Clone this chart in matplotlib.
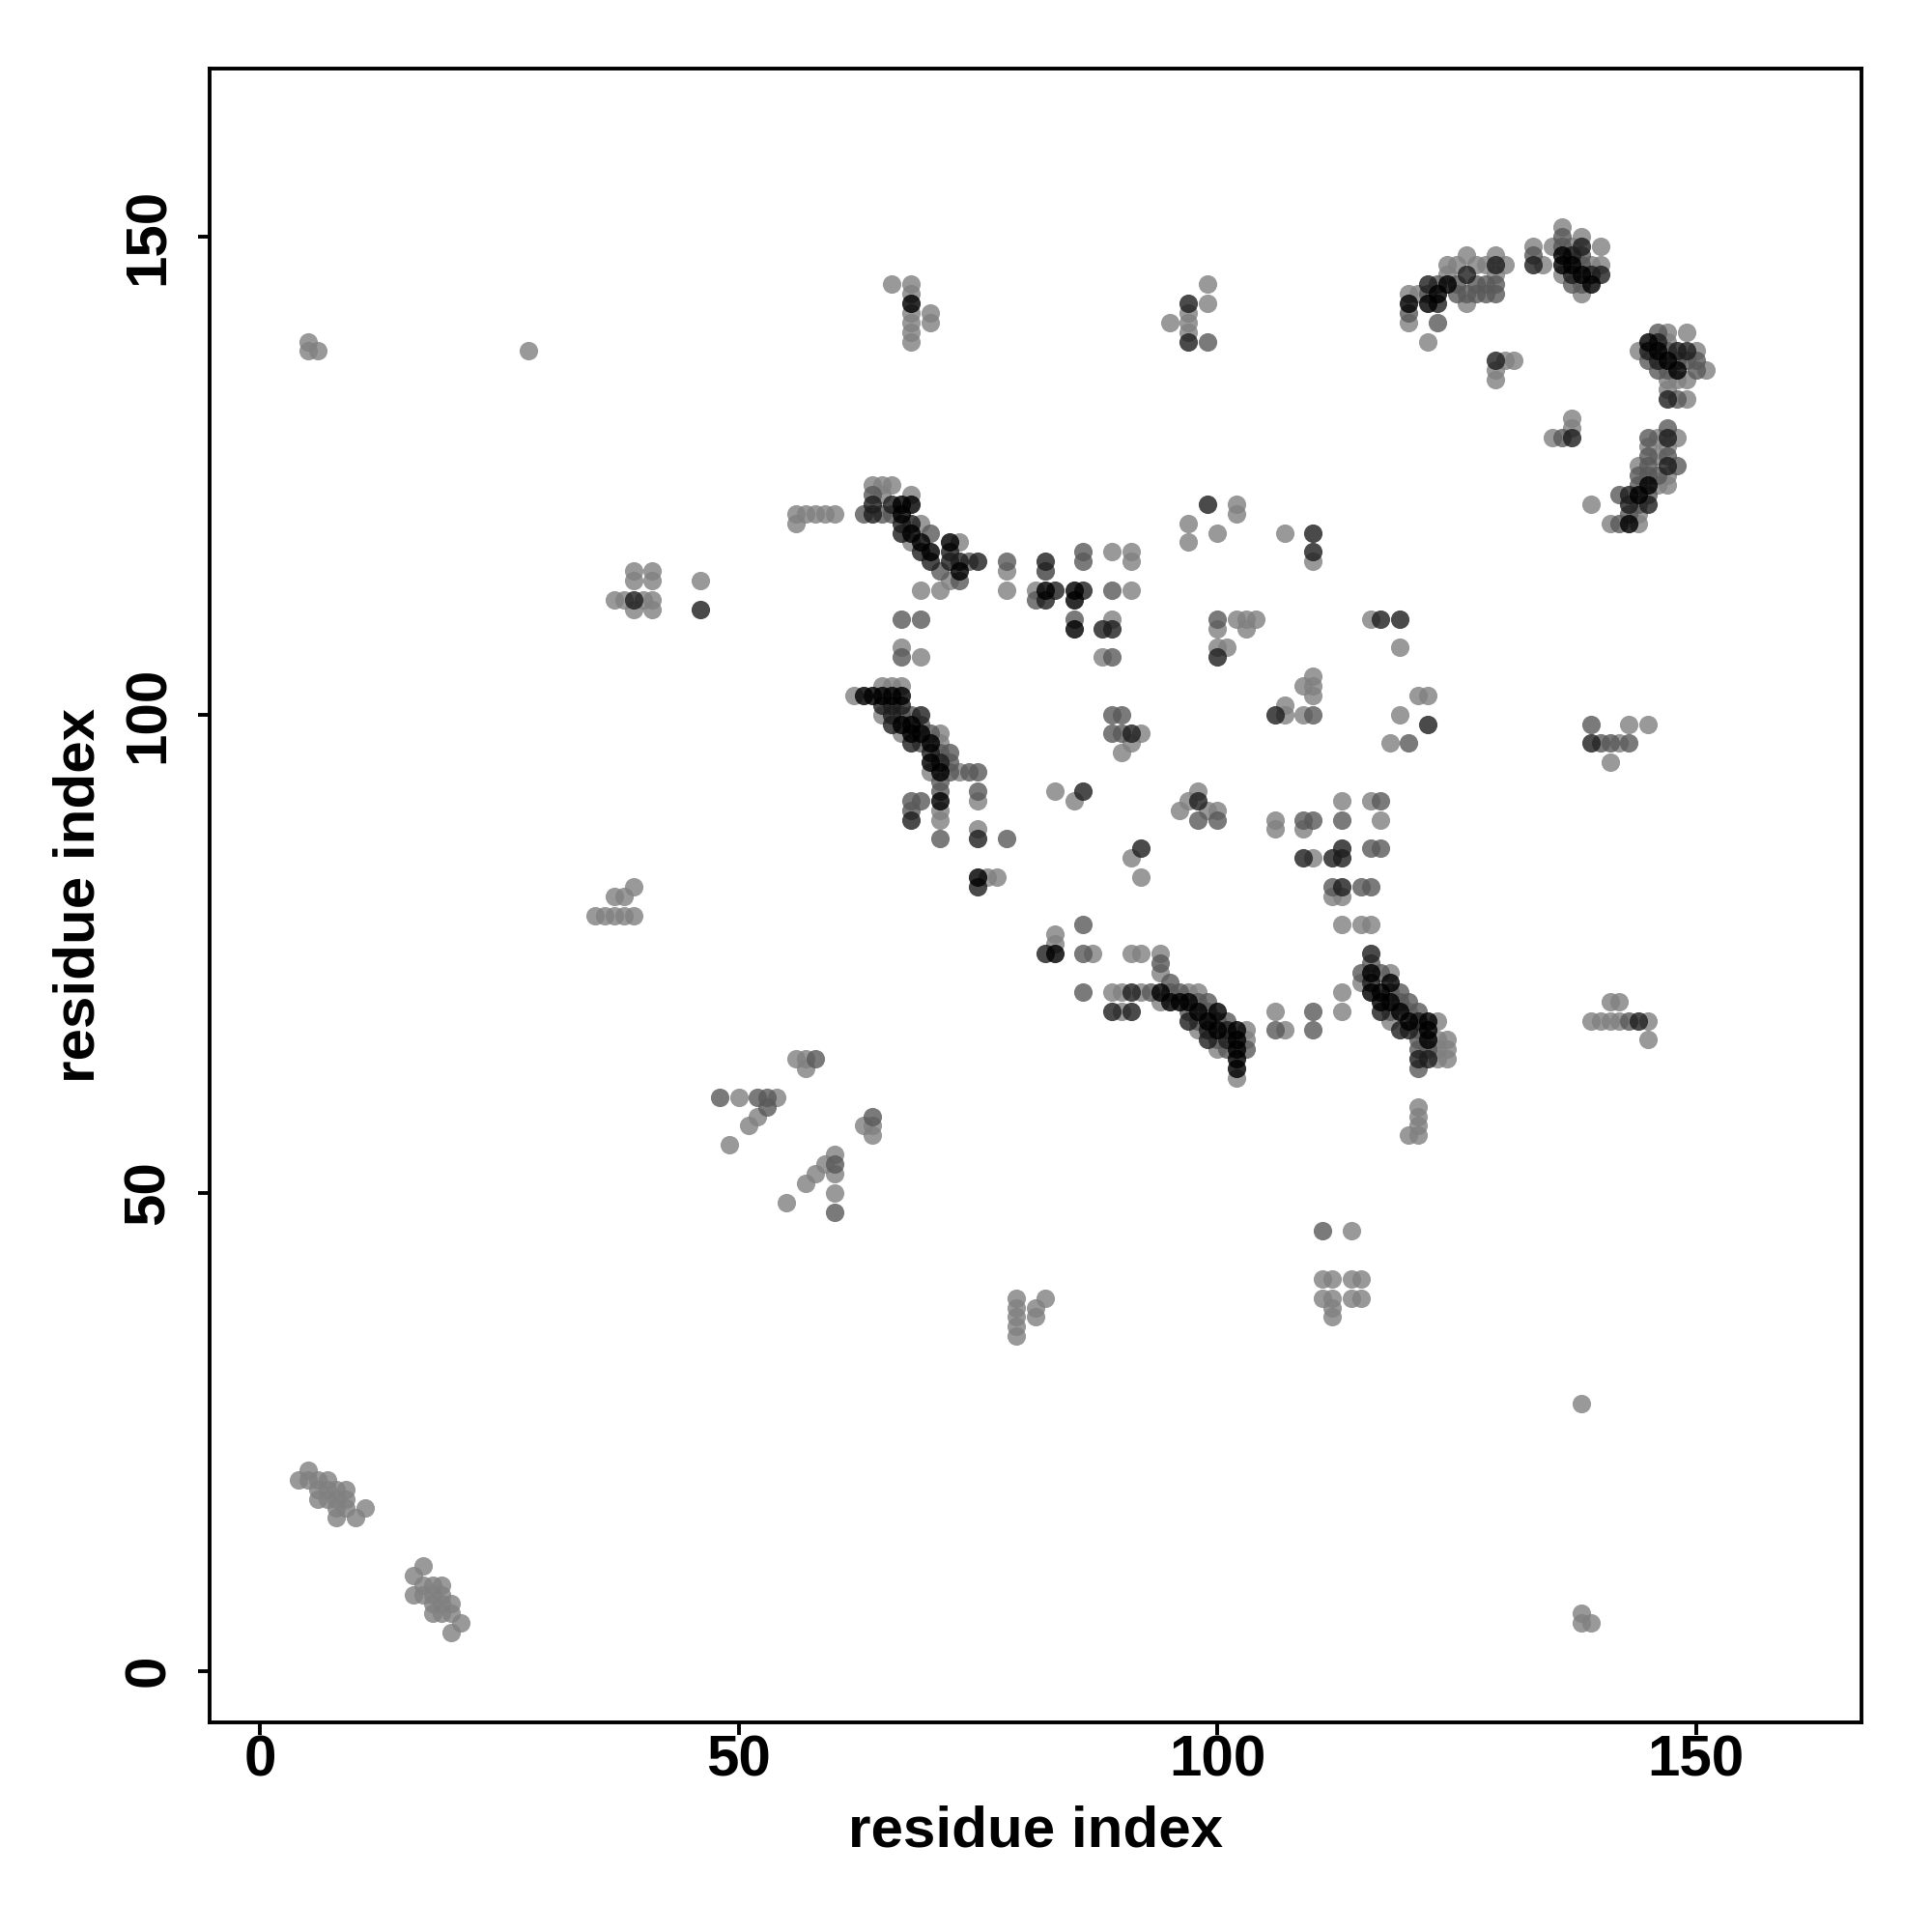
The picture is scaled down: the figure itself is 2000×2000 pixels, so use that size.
import matplotlib
matplotlib.use('Agg')
import matplotlib.pyplot as plt

# contacts, (residue i, residue j), grouped by grey level
contacts_black = [(120,143),(122,143),(123,144),(124,145),(136,148),(136,147),(137,147),(138,146),(139,145),
    (145,139),(146,138),(147,137),(148,136),(145,124),(144,123),(143,120),(68,143),
    (67,122),(68,122),(67,121),(68,119),(69,118),(70,117),(72,118),(73,115),(82,113),(85,113),(85,112),(85,109),
    (63,102),(64,102),(65,102),(66,102),(67,102),(67,99),(68,99),(68,98),(69,98),(70,97),(70,95),(71,94),(71,91),(75,83),
    (83,75),(94,71),(95,70),(96,70),(97,70),(98,69),(100,69),(99,68),(100,67),(102,67),(102,66),(102,65),(102,64),(102,63),
    (116,73),(116,71),(117,71),(118,72),(117,70),(118,70),(119,69),(120,68),(122,68),(122,67),(122,66)]

contacts_dark = [(122,145),(123,143),(126,146),(129,147),(133,147),(137,148),(137,146),(138,149),(139,146),(140,146),
    (129,137),(137,129),(145,138),(146,139),(146,137),(148,138),(149,138),(147,133),(147,129),(147,126),
    (143,123),(143,122),(145,122),(139,97),(144,68),
    (64,122),(66,122),(64,121),(68,120),(67,119),(67,120),(69,117),(70,116),(72,117),(72,116),(73,116),(75,116),
    (83,113),(86,113),(82,112),(82,116),(88,109),(89,109),(39,112),(46,111),
    (65,101),(66,101),(67,101),(66,100),(69,100),(66,99),(68,97),(70,96),(71,95),(68,89),(75,87),(75,82),(86,92),(92,86),
    (98,91),(91,98),(82,75),(91,71),(89,69),(91,69),(97,68),(99,67),(101,67),(99,66),(101,66),
    (97,143),(97,139),(99,122),(110,119),(110,117),(100,106),(106,100),(122,99),(119,110),(117,110),
    (109,85),(112,85),(113,85),(113,86),(113,82),(116,72),(117,69),(119,67),(120,67),(121,68),(121,64),(122,64),(116,75)]

contacts_mid = [(120,142),(122,144),(123,141),(123,145),(125,145),(127,145),(128,145),(125,144),(126,144),(127,144),(128,144),(129,144),(129,145),
    (133,148),(136,150),(136,149),(137,145),(138,148),(138,147),(138,145),(136,129),
    (145,137),(146,140),(146,136),(147,138),(147,136),(148,137),(148,133),(149,137),(150,137),(150,136),
    (147,130),(145,129),(145,127),(145,126),(147,127),(148,126),(144,125),(145,125),(146,125),(144,124),(142,123),(145,123),(144,122),(142,120),(143,121),
    (64,123),(63,121),(65,121),(66,121),(70,119),(71,115),(73,114),(74,116),(78,116),(81,112),(82,115),(86,117),(86,116),(89,113),(85,110),
    (67,110),(69,110),(67,106),(89,106),(94,74),(95,72),(93,71),(95,71),(96,71),
    (67,100),(68,100),(69,99),(70,98),(69,97),(71,96),(72,96),(72,95),(72,94),(74,94),(75,94),(71,93),(71,92),(75,92),(68,91),(69,91),(68,90),(71,87),(78,87),
    (86,78),(86,75),(86,71),(98,89),(100,89),(58,64),(60,53),(64,58),(48,60),(53,59),(52,60),(53,60),(111,46),
    (90,100),(89,98),(90,98),(89,100),(100,110),(110,100),(110,89),(109,89),(113,89),(117,91),(117,86),(116,86),(112,82),(116,82),(115,82),(99,139),
    (139,99),(140,97),(141,97),(143,97),(110,69),(106,67),(110,67),(98,70),(99,70),(98,68),(100,68),(97,69),(99,69),(101,68),(100,66),(101,65),(103,65),
    (116,74),(115,73),(117,73),(118,71),(118,69),(119,70),(120,70),(119,71),(121,69),(121,67),(121,66),(121,65),(122,65),(121,63),(143,68),(60,48),(120,97)]

contacts_light = [(4,20),(5,21),(5,20),(6,20),(7,20),(6,19),(7,19),(8,19),(9,19),(6,18),(7,18),(8,18),(9,18),(8,17),(9,17),(11,17),(8,16),(10,16),
    (17,11),(16,10),(17,9),(18,9),(19,9),(16,8),(17,8),(18,8),(19,8),(18,7),(19,7),(20,7),(18,6),(19,6),(20,6),(20,4),(21,5),
    (5,139),(5,138),(6,138),(28,138),(138,28),(138,6),(138,5),(139,5),
    (35,79),(36,79),(37,79),(38,79),(39,79),(37,81),(38,81),(39,82),
    (37,112),(38,112),(40,112),(41,112),(39,115),(41,115),(39,114),(41,114),(39,111),(41,111),(46,114),
    (56,120),(56,121),(57,121),(58,121),(59,121),(60,121),
    (120,144),(121,144),(120,141),(122,139),(124,147),(124,146),(125,147),(126,148),(127,147),(128,147),(126,143),(129,148),(130,147),(129,146),
    (133,149),(134,147),(135,149),(136,151),(136,146),(137,149),(138,150),(138,144),(139,147),(140,147),(140,149),
    (130,137),(131,137),(129,136),(129,135),(135,129),(137,130),(137,131),
    (144,138),(147,140),(147,139),(147,135),(147,134),(148,135),(149,140),(149,135),(149,133),(150,138),(151,136),
    (148,129),(146,129),(145,128),(147,128),(146,127),(144,126),(147,125),(146,124),(147,124),(139,122),(141,120),(144,120),(144,121),
    (64,124),(65,124),(66,124),(65,123),(68,123),(69,120),(68,118),(73,118),(72,114),(78,115),(78,113),(82,115),(81,113),(89,117),(91,117),(91,116),(91,113),(89,110),(88,106),
    (69,113),(71,113),(67,107),(69,106),(65,103),(66,103),(67,103),(62,102),(65,100),(67,98),(71,98),(71,97),(70,94),(73,94),(75,91),(71,90),(71,89),(75,88),
    (76,83),(77,83),(83,92),(85,91),(91,85),(92,83),(96,90),(97,91),(98,92),(99,90),(100,90),(91,97),(92,98),(90,96),
    (83,77),(83,76),(87,75),(89,71),(90,71),(92,71),(90,69),(91,75),(92,75),(94,75),(94,73),(94,70),(97,71),(98,71),
    (98,67),(103,67),(103,66),(100,65),(102,62),(106,69),(107,67),(113,71),(113,69),(115,72),(118,73),(118,68),(120,69),(123,68),(123,66),(124,66),(123,65),(124,65),(123,64),(124,64),
    (119,107),(116,110),(121,102),(122,102),(119,100),(118,97),(107,119),(110,116),(102,122),(102,121),(97,120),(97,118),(100,119),
    (102,110),(103,110),(104,110),(103,109),(100,109),(100,107),(101,107),(107,101),(107,100),(109,100),(110,104),(109,103),(110,103),(110,102),
    (106,89),(106,88),(109,88),(113,91),(116,91),(117,89),(110,85),(112,81),(113,81),(113,78),(115,78),(116,78),
    (139,68),(140,68),(141,68),(142,68),(145,68),(141,70),(142,70),(145,66),(142,97),(141,95),(143,99),(145,99),
    (121,59),(121,58),(121,57),(120,56),(121,56),(50,60),(54,60),(52,58),(51,57),(49,55),(56,64),(57,64),(57,63),
    (63,57),(64,57),(64,56),(60,54),(59,53),(58,52),(60,52),(57,51),(60,50),(55,49),
    (114,46),(111,41),(112,41),(114,41),(115,41),(111,39),(112,39),(114,39),(115,39),(112,38),(112,37),
    (79,39),(79,38),(79,37),(79,36),(79,35),(81,38),(81,37),(82,39),
    (66,145),(68,145),(68,144),(68,142),(70,142),(70,141),(68,141),(68,140),(68,139),
    (95,141),(97,142),(97,141),(97,140),(99,145),(99,143)]

grey_levels = ['#808080', '#595959', '#1d1d1d', '#000000']
grey_alpha = [0.8, 0.8, 0.8, 0.82]
tick_values = [0, 50, 100, 150]

plt.rcParams['font.family'] = 'Liberation Sans'
plt.rcParams['font.weight'] = 'bold'

fig = plt.figure(figsize=(20, 20), dpi=100)
ax = fig.add_axes([0.1084, 0.1084, 0.8552, 0.8559])

# darker contacts last so the diagonals stay black
groups = [contacts_light, contacts_mid, contacts_dark, contacts_black]
for pts, col, a in zip(groups, grey_levels, grey_alpha):
    ax.scatter([p[0] for p in pts], [p[1] for p in pts], s=190, color=col, alpha=a, linewidths=0)

ax.set_xlim(-5.28, 167.3)
ax.set_ylim(-5.4, 167.5)
ax.set_xticks(tick_values)
ax.set_yticks(tick_values)
ax.tick_params(length=9, width=2.8, labelsize=43.3)
ax.tick_params(axis='x', pad=0)
ax.tick_params(axis='y', pad=16)
for lab in ax.get_yticklabels():
    lab.set_rotation(90)
    lab.set_va('center')
for sp in ax.spines.values():
    sp.set_linewidth(2.8)

ax.set_xlabel('residue index', fontsize=43.3, fontweight='bold', labelpad=13)
ax.set_ylabel('residue index', fontsize=43.3, fontweight='bold', labelpad=13)

fig.savefig('out.png', dpi=100)
